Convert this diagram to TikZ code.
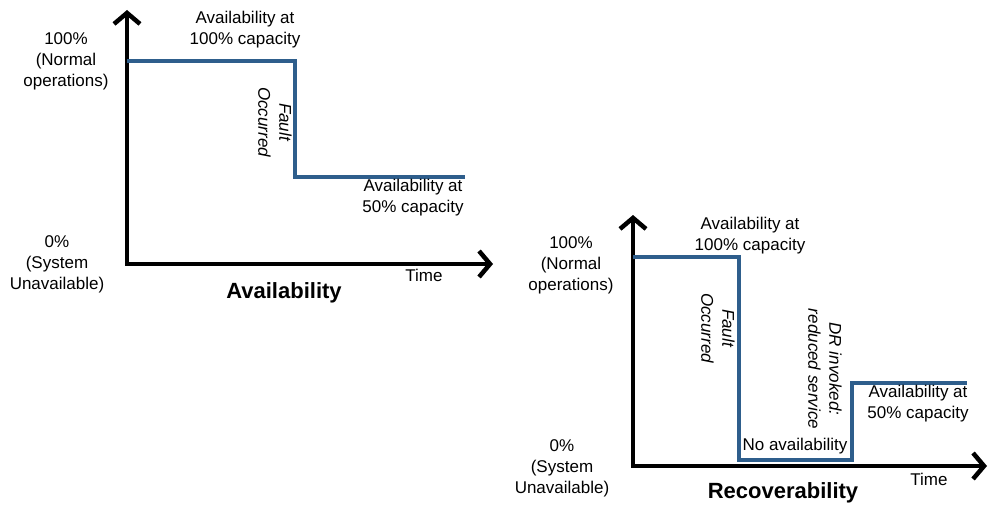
\documentclass[tikz,border=0pt]{standalone}
\usepackage{fontspec}
\setmainfont{Liberation Sans}
\usetikzlibrary{arrows.meta}
\definecolor{lineblue}{RGB}{46,94,140}

\begin{document}
\begin{tikzpicture}[x=1pt, y=-1pt, >={Straight Barb[length=11pt,width=26pt]},
    axis/.style={line width=4.5pt, <->},
    level/.style={line width=4pt, lineblue},
    lbl/.style={font=\fontsize{17}{21}\selectfont, align=center, inner sep=0pt},
    vlbl/.style={lbl, font=\fontsize{17}{21}\selectfont\itshape, rotate=-90},
    title/.style={font=\fontsize{22}{26}\selectfont\bfseries, inner sep=0pt}]
    \useasboundingbox (0,0) rectangle (989,506);

    % Availability chart
    \draw[axis] (127,10) -- (127,264) -- (493,264);
    \draw[level] (127,61) -- (295,61) -- (295,177) -- (465,177);

    \node[lbl] (avfull) at (66,61) {100\%\\(Normal\\operations)};
    \node[lbl] (avzero) at (57,264) {0\%\\(System\\Unavailable)};
    \node[lbl] (avtop) at (245,30) {Availability at\\100\% capacity};
    \node[vlbl] (avfault) at (275,122) {Fault\\Occurred};
    \node[lbl] (avhalf) at (413,198) {Availability at\\50\% capacity};
    \node[lbl] (avtime) at (424,275) {Time};
    \node[title] (avtitle) at (284,293) {Availability};

    % Recoverability chart
    \draw[axis] (633,215) -- (633,466) -- (987,466);
    \draw[level] (633,257) -- (739,257) -- (739,460) -- (852,460) -- (852,383) -- (967,383);

    \node[lbl] (rcfull) at (571,265) {100\%\\(Normal\\operations)};
    \node[lbl] (rczero) at (562,468) {0\%\\(System\\Unavailable)};
    \node[lbl] (rctop) at (750,236) {Availability at\\100\% capacity};
    \node[vlbl] (rcfault) at (718,328) {Fault\\Occurred};
    \node[vlbl] (rcdr) at (825,369) {DR invoked:\\reduced service};
    \node[lbl] (rcnone) at (795,446) {No availability};
    \node[lbl] (rchalf) at (918,404) {Availability at\\50\% capacity};
    \node[lbl] (rctime) at (929,479) {Time};
    \node[title] (rctitle) at (783,493) {Recoverability};

\end{tikzpicture}
\end{document}
